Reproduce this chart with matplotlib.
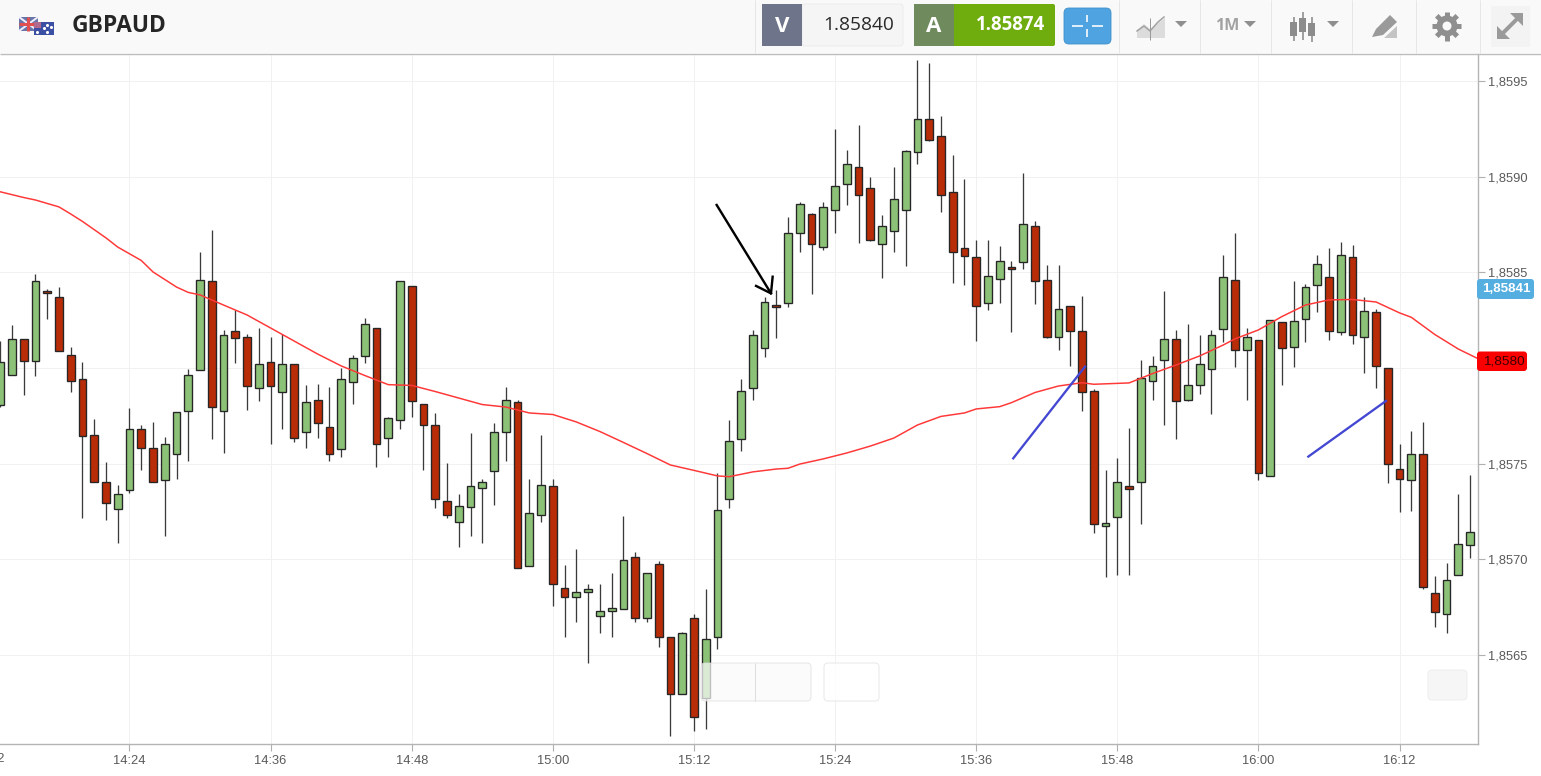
import numpy as np
import matplotlib
matplotlib.use("Agg")
import matplotlib.pyplot as plt
from matplotlib.patches import Rectangle, FancyBboxPatch, Circle, Polygon

# ---------- data (prices, minutes relative to 14:24) ----------
first_minute = -11
highs = [1.858143,1.858223,1.858150,1.858491,1.858411,1.858422,1.858111,1.858030,1.857732,1.857507,1.857389,1.857790,
1.857701,1.857720,1.857638,1.857770,1.857993,1.858608,1.858721,1.858197,1.858303,1.858179,1.858211,1.858162,
1.858176,1.858020,1.857913,1.857918,1.857899,1.857999,1.858067,1.858261,1.858211,1.857746,1.858455,1.858430,
1.857814,1.857763,1.857502,1.857340,1.857662,1.857420,1.857713,1.857899,1.857833,1.857420,1.857652,1.857420,
1.856972,1.857053,1.856873,1.856873,1.856929,1.857228,1.857040,1.856930,1.856992,1.856594,1.856619,1.856713,
1.856844,1.857450,1.857730,1.857943,1.858199,1.858373,1.858408,1.858788,1.858869,1.858809,1.858869,1.859249,
1.859139,1.859269,1.859000,1.858801,1.859051,1.859138,1.859610,1.859592,1.859317,1.859113,1.858988,1.858671,
1.858671,1.858639,1.858559,1.859018,1.858770,1.858540,1.858540,1.858324,1.858378,1.857889,1.857469,1.857531,
1.857687,1.858042,1.858063,1.858403,1.858197,1.858229,1.858173,1.858199,1.858589,1.858707,1.858211,1.858145,
1.858251,1.858242,1.858453,1.858441,1.858591,1.858629,1.858659,1.858641,1.858373,1.858310,1.858000,1.857601,
1.857669,1.857720,1.856912,1.856980,1.857340,1.857441]
lows = [1.857798,1.857962,1.857859,1.857957,1.858255,1.858087,1.857875,1.857218,1.857403,1.857204,1.857086,1.857347,
1.857466,1.857403,1.857124,1.857422,1.857516,1.857988,1.857628,1.857554,1.858025,1.857782,1.857826,1.857601,
1.857683,1.857615,1.857584,1.857633,1.857516,1.857533,1.857814,1.858025,1.857484,1.857533,1.857683,1.857746,
1.857466,1.857267,1.857216,1.857066,1.857124,1.857086,1.857284,1.857514,1.856955,1.856967,1.857197,1.856756,
1.856596,1.856674,1.856457,1.856614,1.856596,1.856742,1.856674,1.856674,1.856544,1.856079,1.856295,1.856103,
1.856115,1.856532,1.857267,1.857565,1.857833,1.858056,1.858155,1.858317,1.858605,1.858387,1.858617,1.858704,
1.858852,1.858655,1.858665,1.858469,1.858605,1.858535,1.859065,1.859185,1.858815,1.858443,1.858435,1.858143,
1.858305,1.858341,1.858187,1.858518,1.858335,1.858155,1.858094,1.858012,1.857775,1.857136,1.856906,1.856918,
1.856918,1.857185,1.857833,1.857701,1.857628,1.857826,1.857863,1.857758,1.858138,1.858007,1.857833,1.857415,
1.857434,1.857913,1.858007,1.858138,1.858293,1.858145,1.858174,1.858126,1.857976,1.857896,1.857398,1.857248,
1.857253,1.856847,1.856645,1.856614,1.856917,1.857006]
opens = [1.857807,1.857962,1.858150,1.858037,1.858404,1.858373,1.858068,1.857944,1.857652,1.857403,1.857265,1.857364,
1.857681,1.857582,1.857416,1.857552,1.857775,1.857988,1.858455,1.857775,1.858194,1.858161,1.857894,1.858032,
1.857876,1.858020,1.857664,1.857833,1.857690,1.857577,1.857925,1.858063,1.858211,1.857633,1.857727,1.858430,
1.857814,1.857701,1.857304,1.857197,1.857272,1.857371,1.857463,1.857664,1.857821,1.856967,1.857234,1.857384,
1.856849,1.856805,1.856830,1.856706,1.856730,1.856742,1.857011,1.856694,1.856974,1.856594,1.856295,1.856694,
1.856277,1.856593,1.857316,1.857628,1.857894,1.858106,1.858331,1.858341,1.858704,1.858803,1.858634,1.858827,
1.858963,1.859051,1.858939,1.858648,1.858716,1.858827,1.859127,1.859300,1.859213,1.858921,1.858629,1.858579,
1.858341,1.858465,1.858528,1.858554,1.858741,1.858460,1.858162,1.858324,1.858194,1.857882,1.857173,1.857223,
1.857385,1.857403,1.857931,1.858044,1.858150,1.857831,1.857913,1.857993,1.858206,1.858460,1.858094,1.858145,
1.857434,1.858242,1.858111,1.858255,1.858435,1.858474,1.858187,1.858579,1.858162,1.858293,1.858000,1.857471,
1.857415,1.857551,1.856824,1.856713,1.856917,1.857074]
closes = [1.858033,1.858150,1.858037,1.858455,1.858392,1.858087,1.857932,1.857645,1.857403,1.857296,1.857342,1.857683,
1.857584,1.857403,1.857601,1.857770,1.857964,1.858462,1.857795,1.858174,1.858155,1.857908,1.858020,1.857908,
1.858020,1.857633,1.857821,1.857714,1.857552,1.857944,1.858051,1.858230,1.857603,1.857739,1.858455,1.857826,
1.857702,1.857316,1.857234,1.857279,1.857384,1.857403,1.857664,1.857833,1.856955,1.857241,1.857390,1.856873,
1.856805,1.856830,1.856844,1.856730,1.856744,1.856998,1.856694,1.856930,1.856593,1.856295,1.856614,1.856178,
1.856582,1.857260,1.857620,1.857882,1.858174,1.858344,1.858317,1.858704,1.858859,1.858648,1.858840,1.858953,
1.859065,1.858903,1.858671,1.858741,1.858883,1.859133,1.859300,1.859193,1.858903,1.858605,1.858584,1.858324,
1.858479,1.858559,1.858516,1.858753,1.858455,1.858162,1.858310,1.858194,1.857876,1.857185,1.857192,1.857403,
1.857366,1.857946,1.858012,1.858150,1.857826,1.857913,1.858020,1.858174,1.858474,1.858094,1.858162,1.857451,
1.858251,1.858106,1.858244,1.858423,1.858542,1.858194,1.858592,1.858174,1.858300,1.858012,1.857497,1.857422,
1.857552,1.856854,1.856725,1.856892,1.857080,1.857143]

ma_minutes = [-11,-9,-8,-6,-5,-4,-2,-1,1,2,4,5,6,8,10,12,14,16,18,20,22,24,26,28,30,32,34,36,38,40,42,44,46,48,50,51,
53,55,56,57,59,61,63,65,67,69,71,72,74,75,77,79,81,82,85,87,89,91,93,94,96,98,100,102,104,106,108,109,111,113,115]
ma_values = [1.858921,1.858891,1.858878,1.858842,1.858805,1.858766,1.858680,1.858632,1.858562,1.858502,1.858423,1.858395,
1.858382,1.858329,1.858277,1.858209,1.858141,1.858073,1.858011,1.857961,1.857913,1.857909,1.857877,1.857843,
1.857809,1.857796,1.857765,1.857757,1.857718,1.857668,1.857611,1.857553,1.857493,1.857465,1.857436,1.857432,
1.857457,1.857472,1.857476,1.857498,1.857525,1.857556,1.857592,1.857634,1.857702,1.857747,1.857765,1.857786,
1.857798,1.857819,1.857872,1.857906,1.857923,1.857915,1.857922,1.857971,1.858016,1.858063,1.858120,1.858152,
1.858199,1.858269,1.858329,1.858356,1.858358,1.858345,1.858288,1.858265,1.858175,1.858099,1.858039]

price_ticks = [1.8565, 1.8570, 1.8575, 1.8580, 1.8585, 1.8590, 1.8595]
price_labels = ["1,8565", "1,8570", "1,8575", "", "1,8585", "1,8590", "1,8595"]  # 1,8580 sits in the red tag
time_ticks = [0, 12, 24, 36, 48, 60, 72, 84, 96, 108]
time_labels = ["14:24", "14:36", "14:48", "15:00", "15:12", "15:24", "15:36", "15:48", "16:00", "16:12"]
edge_time_tick, edge_time_label = -12, "14:12"

arrow_minutes = [49.93, 54.55]
arrow_prices = [1.858852, 1.858390]
arrow_head_minutes = [53.28, 54.55, 54.69]
arrow_head_prices = [1.858429, 1.858390, 1.858477]
blue1_minutes = [75.15, 81.25]
blue1_prices = [1.857528, 1.858007]
blue2_minutes = [100.24, 106.85]
blue2_prices = [1.857537, 1.857828]

symbol = "GBPAUD"
bid_text, ask_text = "1.85840", "1.85874"
last_label, ma_label = "1,85841", "1,8580"

# ---------- figure ----------
W, H = 1541, 776
px = 0.72
plt.rcParams["font.family"] = ["Liberation Sans", "DejaVu Sans"]
fig = plt.figure(figsize=(W / 100, H / 100), dpi=100, facecolor="white")
ax = fig.add_axes([0, 1 - 744 / H, 1478 / W, (744 - 54) / H])

m = first_minute + np.arange(len(highs))
o, c, hi, lo = map(np.array, (opens, closes, highs, lows))
up = c >= o
GREEN, RED = "#8cc277", "#b82c08"
ax.vlines(m, lo, hi, colors="#3a3a3a", linewidth=1.3 * px, zorder=2)
ax.bar(m, np.abs(c - o), bottom=np.minimum(o, c), width=0.66,
       color=[GREEN if u else RED for u in up], edgecolor="#262626", linewidth=1.35 * px, zorder=3)
ax.plot(ma_minutes, ma_values, color="#ff3838", linewidth=1.5 * px, zorder=4)

ax.plot(arrow_minutes, arrow_prices, color="black", linewidth=2.4 * px, zorder=5)
ax.plot(arrow_head_minutes, arrow_head_prices, color="black", linewidth=2.4 * px, zorder=5)
ax.plot(blue1_minutes, blue1_prices, color="#4347d2", linewidth=2.3 * px, zorder=5)
ax.plot(blue2_minutes, blue2_prices, color="#4347d2", linewidth=2.3 * px, zorder=5)

ax.set_xticks(time_ticks, time_labels)
ax.set_yticks(price_ticks, price_labels)
ax.set_xlim(-11.012, 114.67)
ax.set_ylim(1.856035, 1.859641)
ax.yaxis.tick_right()
ax.grid(True, color="#f1f1f1", linewidth=1 * px, zorder=0)
ax.set_axisbelow(True)
ax.tick_params(axis="both", length=5, width=0.8, color="#b0b0b0", labelcolor="#5a5a5a", labelsize=9.3, pad=2.5)
ax.tick_params(axis="x", pad=3)
for s in ("top", "left"):
    ax.spines[s].set_visible(False)
for s in ("right", "bottom"):
    ax.spines[s].set_color("#b4b4b4")
    ax.spines[s].set_linewidth(1.4 * px)
# the first time label lies mostly beyond the left edge, as in the source
ax.annotate(edge_time_label, xy=(edge_time_tick, 0), xycoords=("data", "axes fraction"),
            xytext=(0, -(5 * px + 3 + 0.1)), textcoords="offset points", ha="center", va="top",
            fontsize=9.3, color="#5a5a5a", annotation_clip=False)

# ---------- overlay in pixel coordinates (toolbar and price tags) ----------
ov = fig.add_axes([0, 0, 1, 1], zorder=10)
ov.set_xlim(0, W)
ov.set_ylim(H, 0)
ov.axis("off")
ov.patch.set_alpha(0)

def rect(x0, y0, x1, y1, fc, ec="none", lw=0, alpha=None, z=1):
    ov.add_patch(Rectangle((x0, y0), x1 - x0, y1 - y0, fc=fc, ec=ec, lw=lw, alpha=alpha, zorder=z))

def rrect(x0, y0, x1, y1, fc, ec="none", lw=0, alpha=None, r=3, z=1):
    ov.add_patch(FancyBboxPatch((x0 + r, y0 + r), x1 - x0 - 2 * r, y1 - y0 - 2 * r,
                                boxstyle=f"round,pad={r},rounding_size={r}", fc=fc, ec=ec, lw=lw, alpha=alpha, zorder=z))

def seg(xs, ys, color, lw=1.0, z=3):
    ov.plot(xs, ys, color=color, linewidth=lw * px, zorder=z, solid_capstyle="butt")

rect(0, 0, W, 53, "#f9f9f9")
seg([0, W], [53.5, 53.5], "#bdbdbd", 1.4)

# flags
rect(19, 17, 38, 31, "#3f4f8f", z=2)
rect(19, 17, 38, 31, "#e8e8ee", alpha=0.25, z=2)
seg([19, 38], [17, 31], "#eeeeff", 2, z=3)
seg([19, 38], [31, 17], "#eeeeff", 2, z=3)
seg([28.5, 28.5], [17, 31], "#e05050", 3, z=3)
seg([19, 38], [24, 24], "#e05050", 3, z=3)
rect(34, 21.5, 54, 35, "#3b4fa5", z=4)
rect(34, 21.5, 41, 27.5, "#b06a90", z=4)
ov.scatter([37.5, 47, 51, 44, 47.5], [31.5, 24.5, 27, 28, 32], s=1.5, color="white", zorder=5)

ov.text(72, 26.5, symbol, family="Open Sans", weight="bold", fontsize=16.4, color="#262626", va="center", ha="left", zorder=5)

# bid / ask
seg([755, 755], [0, 53], "#e6e6e6")
rrect(802, 4, 903, 46, "#f5f5f5", ec="#ebebeb", lw=0.7)
rect(762, 4, 802, 46, "#6e7489", z=2)
ov.text(782, 26, "V", family="Open Sans", weight="bold", fontsize=16, color="white", ha="center", va="center", zorder=5)
ov.text(859, 25.5, bid_text, family="Open Sans", fontsize=13.8, color="#2a2a2a", ha="center", va="center", zorder=5)
rrect(950, 4, 1055, 46, "#6fac0e", r=2)
rect(914, 4, 954, 46, "#6f8a5d", z=2)
ov.text(934, 26, "A", family="Open Sans", weight="bold", fontsize=16, color="white", ha="center", va="center", zorder=5)
ov.text(1011, 25.5, ask_text, family="Open Sans", weight="bold", fontsize=13.4, color="white", ha="center", va="center", zorder=5)

# crosshair button
rrect(1064, 8, 1111, 44, "#4fa3e1", ec="#3f8fcb", lw=0.6, r=5)
seg([1087.5, 1087.5], [15, 22], "white", 1.6, z=5)
seg([1087.5, 1087.5], [29, 37], "white", 1.6, z=5)
seg([1072, 1083], [26, 26], "white", 1.6, z=5)
seg([1092, 1103], [26, 26], "white", 1.6, z=5)

for x in (1119, 1200, 1271, 1352, 1416, 1480):
    seg([x, x], [0, 53], "#e6e6e6")

GREY = "#a2a2a2"
def tri(x, y=21):
    ov.add_patch(Polygon([(x - 6, y), (x + 6, y), (x, y + 6)], closed=True, fc="#8f8f8f", ec="none", zorder=5))

# chart type icon
ov.add_patch(Polygon([(1137, 38), (1137, 30), (1144, 24), (1150, 29), (1165, 18), (1165, 38)], closed=True, fc="#dcdcdc", ec="none", zorder=4))
ov.plot([1137, 1144, 1150, 1158, 1164], [31, 26, 31, 22, 17], color=GREY, linewidth=1.5 * px, zorder=5)
seg([1150, 1150], [18, 40], "#9a9a9a", 1, z=5)
tri(1181)
ov.text(1227, 26, "1M", family="Open Sans", weight="bold", fontsize=11.5, color=GREY, ha="center", va="center", zorder=5)
tri(1250)

# candle icon
for x, t, b, tt, bb in ((1294, 22, 36, 17, 41), (1303, 18, 32, 12, 40), (1312, 23, 36, 17, 42)):
    seg([x, x], [tt, bb], "#8c8c8c", 1.6, z=5)
    rect(x - 3.5, t, x + 3.5, b, "#8c8c8c", z=5)
tri(1333)

# drawing icon
ov.add_patch(Polygon([(1372, 37), (1376, 29), (1390, 15), (1397, 22), (1383, 35)], closed=True, fc="#9a9a9a", ec="none", zorder=5))
ov.add_patch(Polygon([(1384, 38), (1397, 26), (1397, 38)], closed=True, fc="#c4c4c4", ec="none", zorder=5))

# gear
ang = np.linspace(0, 2 * np.pi, 8, endpoint=False)
for a in ang:
    seg([1447 + 8 * np.cos(a), 1447 + 14.5 * np.cos(a)], [26 + 8 * np.sin(a), 26 + 14.5 * np.sin(a)], "#8f8f8f", 5, z=5)
ov.add_patch(Circle((1447, 26), 10.5, fc="#8f8f8f", ec="none", zorder=5))
ov.add_patch(Circle((1447, 26), 4.5, fc="#f9f9f9", ec="none", zorder=6))

# expand
rect(1491, 6, 1530, 47, "#f3f3f3")
seg([1499, 1521], [37, 15], "#9a9a9a", 4, z=5)
ov.add_patch(Polygon([(1510, 13), (1523, 13), (1523, 26)], closed=True, fc="#9a9a9a", ec="none", zorder=5))
ov.add_patch(Polygon([(1497, 26), (1497, 39), (1510, 39)], closed=True, fc="#9a9a9a", ec="none", zorder=5))

# price tags
rrect(1477, 279, 1534, 299, "#55aee0", r=3)
ov.text(1506, 289.5, last_label, family="Liberation Sans", weight="bold", fontsize=9.6, color="white", ha="center", va="center", zorder=5)
rrect(1477, 351.5, 1527, 371, "#fb0000", r=3)
ov.text(1504, 361.5, ma_label, family="Liberation Sans", fontsize=9.7, color="#3c0000", ha="center", va="center", zorder=5)

# translucent chart buttons
rrect(701, 663, 811, 701, "#fafafa", ec="#dcdcdc", lw=0.7, alpha=0.72, r=4)
seg([755, 755], [663, 701], "#dedede", 1)
rrect(824, 663, 879, 701, "#ffffff", ec="#e2e2e2", lw=0.7, alpha=0.8, r=4)
rrect(1428, 670, 1467, 700, "#f6f6f6", ec="#ececec", lw=0.7, alpha=0.9, r=4)

fig.savefig("out.png", dpi=100, facecolor="white")
